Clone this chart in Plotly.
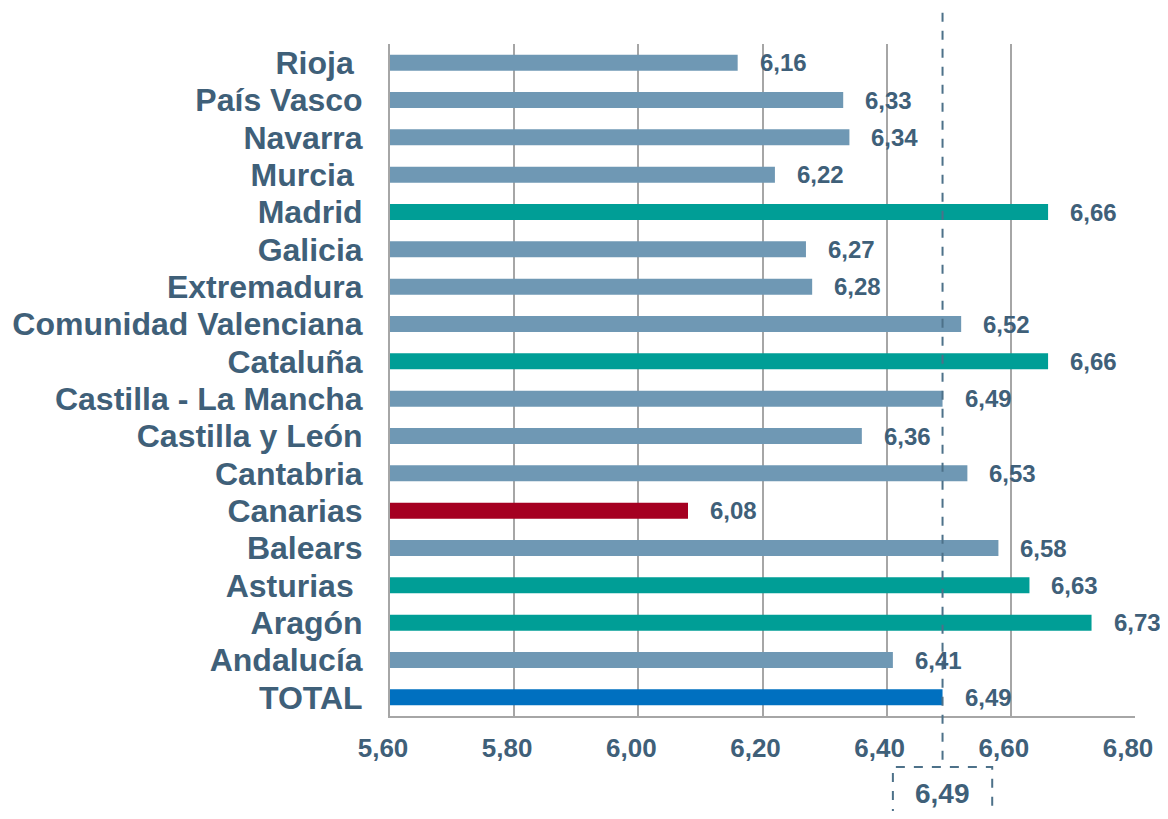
import plotly.graph_objects as go

regions = ["TOTAL", "Andalucía", "Aragón", "Asturias\u00a0", "Balears", "Canarias",
           "Cantabria", "Castilla y León", "Castilla - La Mancha", "Cataluña",
           "Comunidad Valenciana", "Extremadura", "Galicia", "Madrid",
           "Murcia\u00a0", "Navarra", "País Vasco", "Rioja\u00a0"]
scores = [6.49, 6.41, 6.73, 6.63, 6.58, 6.08, 6.53, 6.36, 6.49, 6.66,
          6.52, 6.28, 6.27, 6.66, 6.22, 6.34, 6.33, 6.16]
groups = ["total", "mid", "top", "top", "mid", "low", "mid", "mid", "mid", "top",
          "mid", "mid", "mid", "top", "mid", "mid", "mid", "mid"]
average = 6.49
axis_min = 5.6
tick_values = [5.6, 5.8, 6.0, 6.2, 6.4, 6.6, 6.8]

palette = {"total": "#0070C0", "mid": "#6F98B4", "top": "#009E96", "low": "#A50021"}
text_color = "#3F6079"
dash_color = "#4D7189"
grid_color = "#A6A6A6"
font_family = "Liberation Sans, Arial"


def fmt(v):
    return f"{v:.2f}".replace(".", ",")


fig = go.Figure(go.Bar(
    y=regions, x=[s - axis_min for s in scores], base=axis_min,
    orientation="h", width=0.43,
    marker=dict(color=[palette[g] for g in groups], line=dict(width=0)),
    hoverinfo="skip",
))

for r, s in zip(regions, scores):
    fig.add_annotation(
        x=s, y=r, text=fmt(s), showarrow=False, xanchor="left", xshift=20,
        font=dict(family=font_family, size=24, color=text_color, weight="bold"),
    )

# average line and its label box
fig.add_shape(type="line", xref="x", yref="paper", x0=average, x1=average,
              y0=-0.065, y1=1.054, line=dict(color=dash_color, width=2, dash="dash"))
fig.add_shape(type="rect", xref="x", yref="paper", x0=6.41, x1=6.57,
              y0=-0.2, y1=-0.076, line=dict(color=dash_color, width=2, dash="dash"))
fig.add_annotation(x=average, y=-0.076, xref="x", yref="paper", showarrow=False,
                   yanchor="top", yshift=-9, text=fmt(average),
                   font=dict(family=font_family, size=28, color=text_color, weight="bold"))

# sized to fit the window (inside the page margins) so no scrollbars appear
fig.update_layout(
    width=1152, height=803, plot_bgcolor="white", paper_bgcolor="white",
    margin=dict(l=382, r=25, t=36, b=95), showlegend=False,
    font=dict(family=font_family, color=text_color),
)
fig.update_xaxes(range=[5.6, 6.8], tickvals=tick_values,
                 ticktext=[fmt(v) for v in tick_values],
                 showgrid=True, gridcolor=grid_color, gridwidth=2,
                 showline=True, linecolor=grid_color, linewidth=2,
                 zeroline=False, ticks="", ticklabelstandoff=8, ticklabelshift=-7,
                 automargin=False,
                 tickfont=dict(size=26, family=font_family, color=text_color, weight="bold"))
fig.update_yaxes(showgrid=False, ticks="", ticklabelstandoff=19,
                 tickmode="array", tickvals=regions, ticktext=regions, automargin=False,
                 showline=True, linecolor=grid_color, linewidth=2,
                 tickfont=dict(size=32, family=font_family, color=text_color, weight="bold"))

fig.write_html("out.html")
